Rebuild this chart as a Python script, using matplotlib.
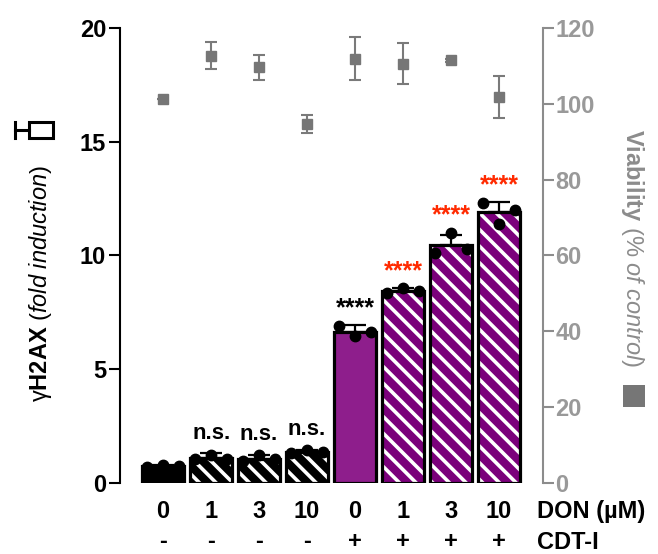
import numpy as np
import matplotlib
matplotlib.use("Agg")
import matplotlib.pyplot as plt
from matplotlib.patches import Rectangle
from matplotlib.lines import Line2D

plt.rcParams['font.family'] = ['Liberation Sans', 'DejaVu Sans']
plt.rcParams['font.weight'] = 'bold'
plt.rcParams['mathtext.fontset'] = 'custom'
plt.rcParams['mathtext.rm'] = 'Liberation Sans:normal'
plt.rcParams['mathtext.it'] = 'Liberation Sans:italic:normal'
plt.rcParams['mathtext.bf'] = 'Liberation Sans:bold'
plt.rcParams['hatch.linewidth'] = 2.6

# gamma-H2AX fold induction (left axis)
don = ["0", "1", "3", "10", "0", "1", "3", "10"]
cdt = ["-", "-", "-", "-", "+", "+", "+", "+"]
h2ax_mean = [0.75, 1.12, 1.08, 1.37, 6.64, 8.42, 10.45, 11.9]
h2ax_sd = [0.04, 0.18, 0.17, 0.08, 0.31, 0.15, 0.45, 0.45]
h2ax_reps = [
    [0.72, 0.78, 0.75],
    [1.05, 1.25, 1.05],
    [0.97, 1.22, 1.05],
    [1.30, 1.45, 1.35],
    [6.90, 6.46, 6.65],
    [8.35, 8.57, 8.44],
    [10.1, 11.0, 10.3],
    [12.3, 11.4, 12.0],
]
signif = ["", "n.s.", "n.s.", "n.s.", "****", "****", "****", "****"]
signif_col = ["black", "black", "black", "black", "black", "#ff2a00", "#ff2a00", "#ff2a00"]

# viability % of control (right axis)
viab_mean = [101.3, 112.7, 109.6, 94.7, 111.9, 110.6, 111.4, 101.7]
viab_sd = [0.0, 3.5, 3.3, 2.4, 5.6, 5.4, 0.4, 5.5]

face = ["black", "black", "black", "black", "#8e1e8c", "#7b007b", "#7b007b", "#7b007b"]
hatched = [False, True, True, True, False, True, True, True]

x = np.arange(len(don))
fig = plt.figure(figsize=(6.58, 5.54), dpi=100)
ax = fig.add_axes([0.1824, 0.128, 0.6429, 0.8217])
ax.set_xlim(-0.9, 7.92)
ax.set_ylim(0, 20)

w = 0.87
for i in range(len(x)):
    ax.bar(x[i], h2ax_mean[i], width=w, facecolor=face[i],
           edgecolor="white", hatch="\\\\" if hatched[i] else None,
           linewidth=0, zorder=2)
    ax.bar(x[i], h2ax_mean[i], width=w, fill=False, edgecolor="black",
           linewidth=2.3, zorder=3)

ax.errorbar(x, h2ax_mean, yerr=[np.zeros(len(x)), h2ax_sd], fmt="none",
            ecolor="black", elinewidth=1.6, capsize=8, capthick=1.6, zorder=4)
offs = [-0.33, 0.0, 0.33]
for i in range(len(x)):
    ax.plot(x[i] + np.array(offs), h2ax_reps[i], "o", color="black",
            markersize=7.5, zorder=5, clip_on=False)
    top = max(h2ax_mean[i] + h2ax_sd[i], max(h2ax_reps[i]))
    if signif[i] == "n.s.":
        ax.text(x[i], top + 0.9, signif[i], ha="center", va="center",
                fontsize=16, fontweight="bold", color=signif_col[i])
    elif signif[i]:
        ax.text(x[i], top + 0.75, signif[i], ha="center", va="center",
                fontsize=18, fontweight="bold", color=signif_col[i])

for s in ["top", "right", "bottom"]:
    ax.spines[s].set_visible(False)
ax.spines["left"].set_linewidth(1.5)
ax.set_yticks([0, 5, 10, 15, 20])
ax.tick_params(axis="y", length=8, width=1.5, pad=2, labelsize=17)
ax.set_xticks([])

tr = ax.get_xaxis_transform()
for i in range(len(x)):
    ax.text(x[i], -0.0635, don[i], transform=tr, ha="center", va="center",
            fontsize=17, fontweight="bold")
    ax.text(x[i], -0.128, cdt[i], transform=tr, ha="center", va="center",
            fontsize=17, fontweight="bold")
ax.text(7.8, -0.0635, "DON (µM)", transform=tr, ha="left", va="center",
        fontsize=17, fontweight="bold")
ax.text(7.8, -0.1316, "CDT-I", transform=tr, ha="left", va="center",
        fontsize=17, fontweight="bold")

ax2 = ax.twinx()
ax2.set_ylim(0, 120)
ax2.errorbar(x, viab_mean, yerr=viab_sd, fmt="s", color="#767676",
             markersize=7, elinewidth=1.5, capsize=4, capthick=1.5,
             ecolor="#7a7a7a", clip_on=False)
for s in ["top", "left", "bottom"]:
    ax2.spines[s].set_visible(False)
ax2.spines["right"].set_color("#8c8c8c")
ax2.spines["right"].set_linewidth(1.5)
ax2.set_yticks([0, 20, 40, 60, 80, 100, 120])
ax2.tick_params(axis="y", length=8, width=1.5, pad=1, labelsize=17,
                colors="#8c8c8c", labelcolor="#999999")

# axis labels
fig.text(0.0623, 0.488,
         r"$\mathrm{\gamma}\mathbf{H2AX}\ \mathit{(fold\ induction)}$",
         rotation=90, ha="center", va="center", fontsize=17)
fig.add_artist(Rectangle((0.0441, 0.751), 0.0365, 0.0289, fill=False,
                         edgecolor="black", linewidth=2.2,
                         transform=fig.transFigure))
fig.add_artist(Line2D([0.0228, 0.0441], [0.7653, 0.7653], color="black",
                      linewidth=2.2, transform=fig.transFigure))
fig.add_artist(Line2D([0.0228, 0.0228], [0.751, 0.780], color="black",
                      linewidth=2.2, transform=fig.transFigure))

fig.text(0.9605, 0.5514, r"$\mathbf{Viability}\ \mathit{(\%\ of\ control)}$",
         rotation=270, ha="center", va="center", fontsize=17, color="#8c8c8c")
fig.add_artist(Rectangle((0.9468, 0.2653), 0.0334, 0.0397, facecolor="#767676",
                         edgecolor="none", transform=fig.transFigure))

fig.savefig("out.png", dpi=100)
